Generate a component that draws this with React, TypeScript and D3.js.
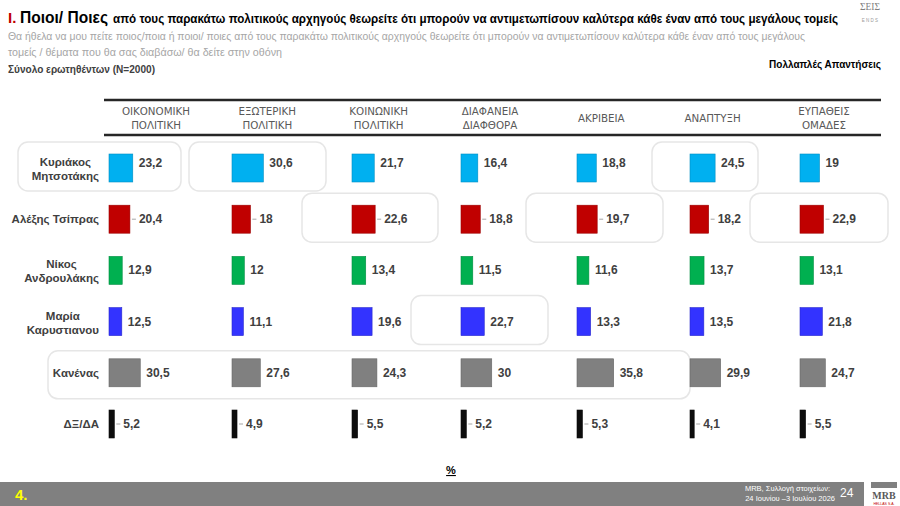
import React, { useEffect, useRef } from "react";
import * as d3 from "d3";

// ---------- DATA ----------
const categories = [
  "ΟΙΚΟΝΟΜΙΚΗ ΠΟΛΙΤΙΚΗ",
  "ΕΞΩΤΕΡΙΚΗ ΠΟΛΙΤΙΚΗ",
  "ΚΟΙΝΩΝΙΚΗ ΠΟΛΙΤΙΚΗ",
  "ΔΙΑΦΑΝΕΙΑ ΔΙΑΦΘΟΡΑ",
  "ΑΚΡΙΒΕΙΑ",
  "ΑΝΑΠΤΥΞΗ",
  "ΕΥΠΑΘΕΙΣ ΟΜΑΔΕΣ",
];
const categoryLines = [
  ["ΟΙΚΟΝΟΜΙΚΗ", "ΠΟΛΙΤΙΚΗ"],
  ["ΕΞΩΤΕΡΙΚΗ", "ΠΟΛΙΤΙΚΗ"],
  ["ΚΟΙΝΩΝΙΚΗ", "ΠΟΛΙΤΙΚΗ"],
  ["ΔΙΑΦΑΝΕΙΑ", "ΔΙΑΦΘΟΡΑ"],
  ["ΑΚΡΙΒΕΙΑ"],
  ["ΑΝΑΠΤΥΞΗ"],
  ["ΕΥΠΑΘΕΙΣ", "ΟΜΑΔΕΣ"],
];
const respondents = [
  "Κυριάκος Μητσοτάκης",
  "Αλέξης Τσίπρας",
  "Νίκος Ανδρουλάκης",
  "Μαρία Καρυστιανου",
  "Κανένας",
  "ΔΞ/ΔΑ",
];
const respondentLines = [
  ["Κυριάκος", "Μητσοτάκης"],
  ["Αλέξης Τσίπρας"],
  ["Νίκος", "Ανδρουλάκης"],
  ["Μαρία", "Καρυστιανου"],
  ["Κανένας"],
  ["ΔΞ/ΔΑ"],
];
const mitsotakis = [23.2, 30.6, 21.7, 16.4, 18.8, 24.5, 19];
const tsipras = [20.4, 18, 22.6, 18.8, 19.7, 18.2, 22.9];
const androulakis = [12.9, 12, 13.4, 11.5, 11.6, 13.7, 13.1];
const karystianou = [12.5, 11.1, 19.6, 22.7, 13.3, 13.5, 21.8];
const kanenas = [30.5, 27.6, 24.3, 30, 35.8, 29.9, 24.7];
const dxda = [5.2, 4.9, 5.5, 5.2, 5.3, 4.1, 5.5];
const seriesValues = [mitsotakis, tsipras, androulakis, karystianou, kanenas, dxda];

// ---------- LAYOUT / STYLE ----------
const rowColors = ["#00b0f0", "#c00000", "#00b050", "#3333ff", "#808080", "#0d0d0d"];
const colBarX = [109, 232, 352, 461, 577, 690, 800];
const boxX = [
  [18, 181],
  [189, 326],
  [302, 438],
  [411, 548],
  [526, 663],
  [652, 758],
  [750, 888],
];
const leaderRows = [1, 5];
const labelDy = [-5, 0, 0, 0, 0, 0];

const W = 900;
const H = 506;
const FONT = "'Liberation Sans', Arial, sans-serif";

export default function App() {
  const ref = useRef<SVGSVGElement | null>(null);

  useEffect(() => {
    const svg = d3.select(ref.current);
    svg.selectAll("*").remove();

    // scales
    const xHead = d3.scalePoint<string>().domain(categories).range([156, 824]);
    const xBar = d3.scaleOrdinal<string, number>().domain(categories).range(colBarX);
    const wScale = d3.scaleLinear().domain([0, 40]).range([0, 41]);
    const yRow = d3.scalePoint<string>().domain(respondents).range([168, 424]);
    const barH = 28;

    // ---------- Title ----------
    const title = svg.append("g").attr("font-family", FONT).attr("font-weight", "bold");
    title.append("text").attr("x", 8).attr("y", 23).attr("fill", "#c00000").attr("font-size", 15).text("I.");
    title
      .append("text")
      .attr("x", 20)
      .attr("y", 23)
      .attr("fill", "#000")
      .attr("font-size", 17)
      .attr("textLength", 88)
      .attr("lengthAdjust", "spacingAndGlyphs")
      .text("Ποιοι/ Ποιες");
    title
      .append("text")
      .attr("x", 113)
      .attr("y", 23)
      .attr("fill", "#000")
      .attr("font-size", 12.5)
      .attr("textLength", 725)
      .attr("lengthAdjust", "spacingAndGlyphs")
      .text("από τους παρακάτω πολιτικούς αρχηγούς θεωρείτε ότι μπορούν να αντιμετωπίσουν  καλύτερα κάθε έναν από τους μεγάλους τομείς");

    const sub = svg.append("g").attr("font-family", FONT).attr("font-size", 11);
    sub
      .append("text")
      .attr("x", 8)
      .attr("y", 40)
      .attr("fill", "#a6a6a6")
      .attr("textLength", 797)
      .attr("lengthAdjust", "spacingAndGlyphs")
      .text("Θα ήθελα να μου πείτε ποιος/ποια ή ποιοι/ ποιες από τους παρακάτω πολιτικούς αρχηγούς θεωρείτε ότι μπορούν να αντιμετωπίσουν  καλύτερα κάθε έναν από τους μεγάλους");
    sub
      .append("text")
      .attr("x", 8)
      .attr("y", 56)
      .attr("fill", "#a6a6a6")
      .attr("textLength", 274)
      .attr("lengthAdjust", "spacingAndGlyphs")
      .text("τομείς / θέματα που θα σας διαβάσω/ θα δείτε στην οθόνη");
    sub
      .append("text")
      .attr("x", 8)
      .attr("y", 73)
      .attr("fill", "#404040")
      .attr("font-weight", "bold")
      .attr("textLength", 147)
      .attr("lengthAdjust", "spacingAndGlyphs")
      .text("Σύνολο ερωτηθέντων (N=2000)");
    sub
      .append("text")
      .attr("x", 881)
      .attr("y", 68)
      .attr("text-anchor", "end")
      .attr("fill", "#000")
      .attr("font-weight", "bold")
      .attr("font-size", 10)
      .text("Πολλαπλές Απαντήσεις");

    // top-right logo
    svg
      .append("text")
      .attr("x", 870)
      .attr("y", 10)
      .attr("text-anchor", "middle")
      .attr("font-family", "'Liberation Serif', serif")
      .attr("font-size", 9.5)
      .attr("fill", "#7f7f7f")
      .text("ΣΕΙΣ");
    svg
      .append("text")
      .attr("x", 870)
      .attr("y", 22)
      .attr("text-anchor", "middle")
      .attr("font-family", FONT)
      .attr("font-size", 4.5)
      .attr("fill", "#9a9a9a")
      .text("E  N  D  S");

    // ---------- Header ----------
    svg.append("line").attr("x1", 104).attr("x2", 881).attr("y1", 100).attr("y2", 100).attr("stroke", "#262626").attr("stroke-width", 2.5);
    svg.append("line").attr("x1", 104).attr("x2", 881).attr("y1", 135).attr("y2", 135).attr("stroke", "#262626").attr("stroke-width", 2.5);

    const head = svg.append("g").attr("font-family", "'DejaVu Sans', Verdana, sans-serif").attr("font-size", 10.3).attr("fill", "#595959");
    categories.forEach((c, i) => {
      const lines = categoryLines[i];
      const t = head.append("text").attr("text-anchor", "middle");
      if (lines.length === 1) {
        t.append("tspan").attr("x", xHead(c)!).attr("y", 122).text(lines[0]);
      } else {
        lines.forEach((l, j) => t.append("tspan").attr("x", xHead(c)!).attr("y", 115 + j * 14).text(l));
      }
    });

    // ---------- Highlight boxes ----------
    const boxes = svg.append("g").attr("fill", "none").attr("stroke", "#e6e6e6").attr("stroke-width", 1.5);
    categories.forEach((c, ci) => {
      const cand = [0, 1, 2, 3];
      const best = cand.reduce((a, b) => (seriesValues[b][ci] > seriesValues[a][ci] ? b : a), 0);
      const y = yRow(respondents[best])!;
      boxes
        .append("rect")
        .attr("x", boxX[ci][0])
        .attr("y", y - 26)
        .attr("width", boxX[ci][1] - boxX[ci][0])
        .attr("height", 49)
        .attr("rx", 10);
    });
    const yK = yRow(respondents[4])!;
    boxes.append("rect").attr("x", 48).attr("y", yK - 22).attr("width", 642).attr("height", 48).attr("rx", 10);

    // ---------- Row labels ----------
    const rl = svg.append("g").attr("font-family", FONT).attr("font-size", 11.5).attr("font-weight", "bold").attr("fill", "#404040");
    respondents.forEach((r, ri) => {
      const y = yRow(r)!;
      const lines = respondentLines[ri];
      if (lines.length === 1) {
        rl.append("text").attr("x", 99).attr("y", y + 4).attr("text-anchor", "end").text(lines[0]);
      } else {
        const t = rl.append("text").attr("text-anchor", "middle");
        const spans = lines.map((l, j) => t.append("tspan").attr("x", 0).attr("y", y - 2 + j * 14).text(l));
        const maxW = d3.max(spans, (s) => (s.node() as SVGTSpanElement).getComputedTextLength()) || 0;
        spans.forEach((s) => s.attr("x", 99 - maxW / 2));
      }
    });

    // ---------- Bars ----------
    const bars = svg.append("g");
    const tsiprasMax = d3.max(tsipras) as number;
    respondents.forEach((r, ri) => {
      const y = yRow(r)!;
      categories.forEach((c, ci) => {
        const v = seriesValues[ri][ci];
        const x0 = xBar(c);
        const w = wScale(v);
        bars
          .append("rect")
          .attr("x", x0)
          .attr("y", y - barH / 2)
          .attr("width", w)
          .attr("height", barH)
          .attr("fill", rowColors[ri])
          .attr("stroke", d3.color(rowColors[ri])!.darker(0.6).toString())
          .attr("stroke-width", 0.6);
        const hasLeader = leaderRows.includes(ri) && !(ri === 1 && v === tsiprasMax - 0.3);
        const gap = hasLeader ? 9 : 6;
        if (hasLeader) {
          bars
            .append("line")
            .attr("x1", x0 + w + 2)
            .attr("x2", x0 + w + 6)
            .attr("y1", y)
            .attr("y2", y)
            .attr("stroke", "#a6a6a6")
            .attr("stroke-width", 1);
        }
        bars
          .append("text")
          .attr("x", x0 + w + gap)
          .attr("y", y + 4 + labelDy[ri])
          .attr("font-family", FONT)
          .attr("font-size", 12)
          .attr("font-weight", "bold")
          .attr("fill", "#404040")
          .text(String(v).replace(".", ","));
      });
    });

    // ---------- % ----------
    svg
      .append("text")
      .attr("x", 451)
      .attr("y", 474)
      .attr("text-anchor", "middle")
      .attr("font-family", FONT)
      .attr("font-size", 11)
      .attr("font-weight", "bold")
      .attr("text-decoration", "underline")
      .attr("fill", "#000")
      .text("%");

    // ---------- Footer ----------
    svg.append("rect").attr("x", 0).attr("y", 482).attr("width", 864).attr("height", 24).attr("fill", "#808080");
    svg.append("text").attr("x", 15).attr("y", 500).attr("font-family", FONT).attr("font-size", 15).attr("font-weight", "bold").attr("fill", "#ffff00").text("4.");
    const ft = svg.append("g").attr("font-family", FONT).attr("fill", "#ffffff");
    ft.append("text").attr("x", 830).attr("y", 491).attr("text-anchor", "end").attr("font-size", 7.5).text("MRB, Συλλογή στοιχείων:");
    ft.append("text").attr("x", 835).attr("y", 501).attr("text-anchor", "end").attr("font-size", 7.5).text("24 Ιουνίου –3 Ιουλίου 2026");
    ft.append("text").attr("x", 840).attr("y", 497).attr("font-size", 12).text("24");

    svg.append("rect").attr("x", 871).attr("y", 482).attr("width", 26).attr("height", 6).attr("fill", "#808080");
    svg
      .append("text")
      .attr("x", 884)
      .attr("y", 499)
      .attr("text-anchor", "middle")
      .attr("font-family", "'Liberation Serif', serif")
      .attr("font-weight", "bold")
      .attr("font-size", 10)
      .attr("fill", "#595959")
      .text("MRB");
    svg
      .append("text")
      .attr("x", 884)
      .attr("y", 504.5)
      .attr("text-anchor", "middle")
      .attr("font-family", FONT)
      .attr("font-size", 3.5)
      .attr("fill", "#c00000")
      .text("HELLAS S.A.");
  }, []);

  return (
    <svg
      ref={ref}
      width={W}
      height={H}
      viewBox={`0 0 ${W} ${H}`}
      style={{ position: "absolute", left: 0, top: 0, background: "#fff" }}
    />
  );
}
